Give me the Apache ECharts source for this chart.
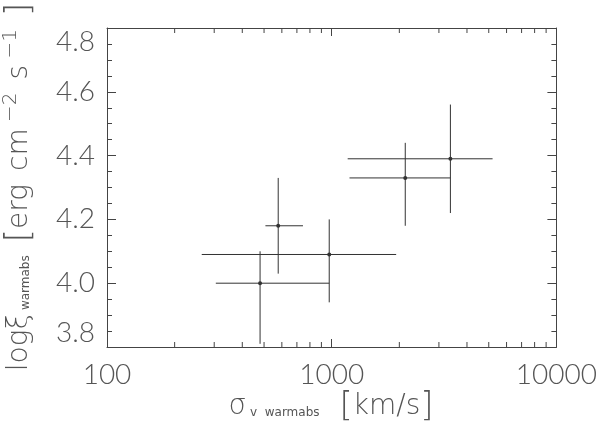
<!DOCTYPE html>
<html>
<head>
<meta charset="utf-8">
<script src="https://cdn.jsdelivr.net/npm/echarts@6/dist/echarts.min.js"></script>
<style>
  html, body { margin: 0; padding: 0; background: #fff; }
  #chart { width: 600px; height: 430px; }
</style>
</head>
<body>
<div id="chart"></div>
<script>
// sigma_v (km/s) with x error range, log xi with y error range
const sigmaV   = [480, 578, 975, 2125, 3375]
const sigmaLo  = [305, 507, 264, 1200, 1178]
const sigmaHi  = [975, 745, 1936, 3375, 5200]
const logXi    = [4.00, 4.18, 4.09, 4.33, 4.39]
const logXiLo  = [3.81, 4.03, 3.94, 4.18, 4.22]
const logXiHi  = [4.10, 4.33, 4.20, 4.44, 4.56]

const xTicks = [100, 1000, 10000]
const xMinorTicks = [200, 300, 400, 500, 600, 700, 800, 900, 2000, 3000, 4000, 5000, 6000, 7000, 8000, 9000]
const yTicks = ['3.8', '4.0', '4.2', '4.4', '4.6', '4.8']

const font = 'Lato'
const nameFont = 'DejaVu Sans'
const ink = '#444'
const textColor = '#555'

const chart = echarts.init(document.getElementById('chart'))

const points = sigmaV.map((x, i) => [x, logXi[i], sigmaLo[i], sigmaHi[i], logXiLo[i], logXiHi[i]])

const baseX = {
  type: 'log',
  logBase: 10,
  min: xTicks[0],
  max: xTicks[xTicks.length - 1],
  axisLine: { lineStyle: { color: ink, width: 1 } },
  axisTick: { inside: true, length: 8, lineStyle: { color: ink } },
  splitLine: { show: false },
  axisLabel: {
    fontFamily: font,
    fontWeight: 300,
    fontSize: 28,
    color: textColor,
    margin: 14,
    formatter: (v) => String(v)
  }
}

const baseY = {
  type: 'value',
  min: 3.8,
  max: 4.8,
  interval: 0.2,
  axisLine: { show: true, lineStyle: { color: ink, width: 1 } },
  axisTick: { show: true, inside: true, length: 9, lineStyle: { color: ink } },
  minorTick: { show: true, splitNumber: 4, length: 5, lineStyle: { color: ink } },
  splitLine: { show: false },
  minorSplitLine: { show: false },
  axisLabel: {
    fontFamily: font,
    fontWeight: 300,
    fontSize: 28,
    color: textColor,
    margin: 12,
    verticalAlignMaxLabel: 'top',
    verticalAlignMinLabel: 'bottom',
    formatter: (v) => yTicks.find(t => Math.abs(parseFloat(t) - v) < 1e-6) || ''
  }
}

const nameStyle = {
  fontFamily: nameFont,
  fontWeight: 200,
  fill: textColor,
  rich: {
    m: { fontFamily: nameFont, fontWeight: 200, fontSize: 28, color: textColor },
    b: { fontFamily: nameFont, fontWeight: 200, fontSize: 34, color: textColor },
    g: { fontFamily: nameFont, fontWeight: 200, fontSize: 28, color: textColor },
    sub: { fontFamily: nameFont, fontSize: 12, color: textColor, padding: [12, 0, 0, 0] },
    sup: { fontFamily: nameFont, fontWeight: 200, fontSize: 20, color: textColor, padding: [0, 0, 18, 0] },
    sp: { fontSize: 28, width: 20 },
    sp2: { fontSize: 28, width: 13 }
  }
}

chart.setOption({
  animation: false,
  backgroundColor: '#fff',
  grid: { left: 107, right: 42, top: 28, bottom: 83 },
  xAxis: [
    baseX,
    Object.assign({}, baseX, { position: 'top', axisLabel: { show: false } })
  ],
  yAxis: [
    baseY,
    Object.assign({}, baseY, { position: 'right', axisLabel: { show: false } })
  ],
  graphic: [
    {
      type: 'text',
      x: 331,
      y: 407,
      style: Object.assign({}, nameStyle, {
        text: '{g|σ}{sub| v  warmabs}{sp|}{b|[}{m|km/s}{b|]}',
        align: 'center',
        verticalAlign: 'middle'
      })
    },
    {
      type: 'text',
      x: 20,
      y: 187,
      rotation: Math.PI / 2,
      style: Object.assign({}, nameStyle, {
        text: '{m|log}{g|ξ}{sub| warmabs}{sp2|}{b|[}{m|erg}{sp2|}{m|cm}{sup| −2}{sp2|}{m|s}{sup| −1}{sp2|}{b|]}',
        align: 'center',
        verticalAlign: 'middle'
      })
    }
  ],
  series: [
    {
      type: 'custom',
      name: 'minor ticks',
      silent: true,
      data: xMinorTicks.map(v => [v, 3.8]),
      renderItem: (params, api) => {
        const v = api.value(0)
        const bottom = api.coord([v, 3.8])
        const top = api.coord([v, 4.8])
        const s = { stroke: ink, lineWidth: 1 }
        return {
          type: 'group',
          children: [
            { type: 'line', shape: { x1: bottom[0], y1: bottom[1], x2: bottom[0], y2: bottom[1] - 5 }, style: s },
            { type: 'line', shape: { x1: top[0], y1: top[1], x2: top[0], y2: top[1] + 5 }, style: s }
          ]
        }
      }
    },
    {
      type: 'custom',
      name: 'warmabs',
      data: points,
      renderItem: (params, api) => {
        const c = api.coord([api.value(0), api.value(1)])
        const l = api.coord([api.value(2), api.value(1)])
        const r = api.coord([api.value(3), api.value(1)])
        const lo = api.coord([api.value(0), api.value(4)])
        const hi = api.coord([api.value(0), api.value(5)])
        const s = { stroke: '#333', lineWidth: 1 }
        return {
          type: 'group',
          children: [
            { type: 'line', shape: { x1: l[0], y1: l[1], x2: r[0], y2: r[1] }, style: s },
            { type: 'line', shape: { x1: lo[0], y1: lo[1], x2: hi[0], y2: hi[1] }, style: s },
            { type: 'circle', shape: { cx: c[0], cy: c[1], r: 2 }, style: { fill: '#333' } }
          ]
        }
      }
    }
  ]
})
</script>
</body>
</html>
